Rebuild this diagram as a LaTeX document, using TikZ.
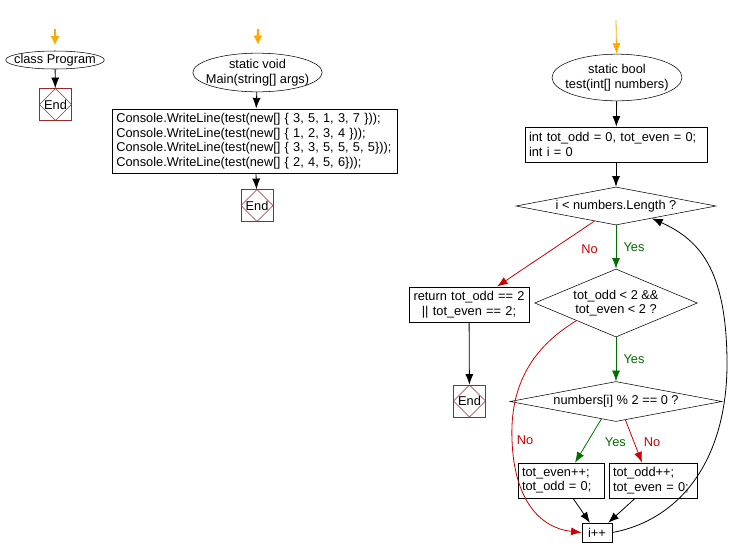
\documentclass[tikz,border=0pt]{standalone}
\usepackage{fontspec}
\setmainfont{Liberation Sans}
\usetikzlibrary{arrows.meta,shapes.geometric}
\definecolor{flowred}{RGB}{204,0,0}
\definecolor{flowgreen}{RGB}{0,110,0}
\definecolor{endred}{RGB}{153,40,40}
\definecolor{entryorange}{RGB}{255,168,0}
\tikzset{
    %Define standard arrow tip
    >={Latex[length=8pt,width=6pt]},
    %Define style for entry ellipses
    entry/.style={
           ellipse,
           draw=black,
           inner sep=0pt},
    %Define style for boxes
    box/.style={
           rectangle,
           draw=black,
           inner xsep=3pt,
           align=left},
    %Define style for decisions
    decision/.style={
           diamond,
           draw=black,
           inner sep=0pt},
    %Define style for end boxes
    endbox/.style={
           rectangle,
           draw=endred,
           minimum width=24pt,
           minimum height=24pt,
           inner sep=0pt,
           path picture={
              \draw[endred, line width=0.4pt]
                 (path picture bounding box.north) -- (path picture bounding box.east) --
                 (path picture bounding box.south) -- (path picture bounding box.west) -- cycle;}},
    % Define arrow styles
    flow/.style={
           ->,
           line width=0.6pt},
    yesflow/.style={
           ->,
           line width=0.6pt,
           color=flowgreen},
    noflow/.style={
           ->,
           line width=0.6pt,
           color=flowred},
    entryflow/.style={
           ->,
           color=entryorange,
           line width=0.6pt}
}
\begin{document}
\begin{tikzpicture}[x=0.75pt, y=-0.75pt, font=\fontsize{9.6}{10.9}\selectfont]
 \useasboundingbox (0,0) rectangle (737,558);
 %nodes
    \coordinate (clsin) at (55,29);
    \node[entry, minimum width=74pt, minimum height=13.5pt,
          label={center:class Program}] (cls) at (55,60) {};
    \node[endbox] (clsend) at (55.5,104.5) {End};

    \coordinate (mainin) at (258,29);
    \node[entry, minimum width=97pt, minimum height=29pt,
          label={[align=center]center:{static void\\Main(string[] args)}}] (main) at (257.5,72.5) {};
    \node[box, text width=208pt, minimum height=48pt] (calls) at (255,141)
        {Console.WriteLine(test(new[] \{ 3, 5, 1, 3, 7 \}));\\
         Console.WriteLine(test(new[] \{ 1, 2, 3, 4 \}));\\
         Console.WriteLine(test(new[] \{ 3, 3, 5, 5, 5, 5\}));\\
         Console.WriteLine(test(new[] \{ 2, 4, 5, 6\}));};
    \node[endbox] (mainend) at (257,205.5) {End};

    \coordinate (testin) at (616,20);
    \node[entry, minimum width=97.5pt, minimum height=35pt,
          label={[align=center]center:{static bool\\test(int[] numbers)}}] (test) at (617,77.5) {};
    \node[box, text width=130.5pt, minimum height=26.25pt] (init) at (616,144.5)
        {int tot\_odd = 0, tot\_even = 0;\\int i = 0};
    \node[decision, minimum width=150pt, minimum height=28.5pt,
          label={center:i < numbers.Length ?}] (loop) at (616,206) {};
    \node[box, align=center, text width=84pt, minimum height=26.25pt] (ret) at (469,304.5)
        {return tot\_odd == 2\\|| tot\_even == 2;};
    \node[endbox] (retend) at (469.5,401) {End};
    \node[decision, minimum width=122pt, minimum height=51pt,
          label={[align=center]center:{tot\_odd < 2 \&\&\\tot\_even < 2 ?}}] (check) at (616,303) {};
    \node[decision, minimum width=159pt, minimum height=30pt,
          label={center:numbers[i] \% 2 == 0 ?}] (parity) at (616,401.5) {};
    \node[box, text width=58.5pt, minimum height=26.25pt] (even) at (561,480.5)
        {tot\_even++;\\tot\_odd = 0;};
    \node[box, text width=60pt, minimum height=26.25pt] (odd) at (653,480.5)
        {tot\_odd++;\\tot\_even = 0;};
    \node[box, align=center, minimum width=22.5pt, minimum height=14.25pt, inner sep=0pt] (inc) at (597,532.5) {i++};
 %edges
    \draw[entryflow, line width=1.8pt, -{Latex[length=7pt,width=7pt]}, shorten >=4pt] (clsin) -- (cls);
    \draw[flow] (cls) -- (clsend);
    \draw[entryflow, line width=1.8pt, -{Latex[length=7pt,width=7pt]}, shorten >=6pt] (mainin) -- (main);
    \draw[flow] (main) -- (calls);
    \draw[flow] (calls) -- (mainend);
    \draw[entryflow] (testin) -- (test);
    \draw[flow] (test) -- (init);
    \draw[flow] (init) -- (loop);
    \draw[noflow] (loop.215) -- node[pos=0.43, xshift=27.75pt] {No} ([xshift=21pt]ret.north);
    \draw[yesflow] (loop) -- node[xshift=13.5pt] {Yes} (check);
    \draw[flow] (ret) -- (retend);
    \draw[yesflow] (check) -- node[xshift=13.5pt] {Yes} (parity);
    \draw[noflow] (check.204) .. controls (528,350) and (510,390) .. (512,440)
        node[right] {No} .. controls (514,500) and (540,528) .. (inc.west);
    \draw[yesflow] (parity.230) -- node[pos=0.53, xshift=21pt] {Yes} ([xshift=10.5pt]even.north);
    \draw[noflow] (parity.297) -- node[pos=0.52, xshift=13.5pt] {No} ([xshift=-8.25pt]odd.north);
    \draw[flow] ([xshift=9pt]even.south) -- (inc.126);
    \draw[flow] ([xshift=-13.5pt]odd.south) -- (inc.41);
    \draw[flow] (inc.east) .. controls (680,520) and (728,460) .. (727,360)
        .. controls (726,270) and (700,240) .. (loop.341);
\end{tikzpicture}
\end{document}
